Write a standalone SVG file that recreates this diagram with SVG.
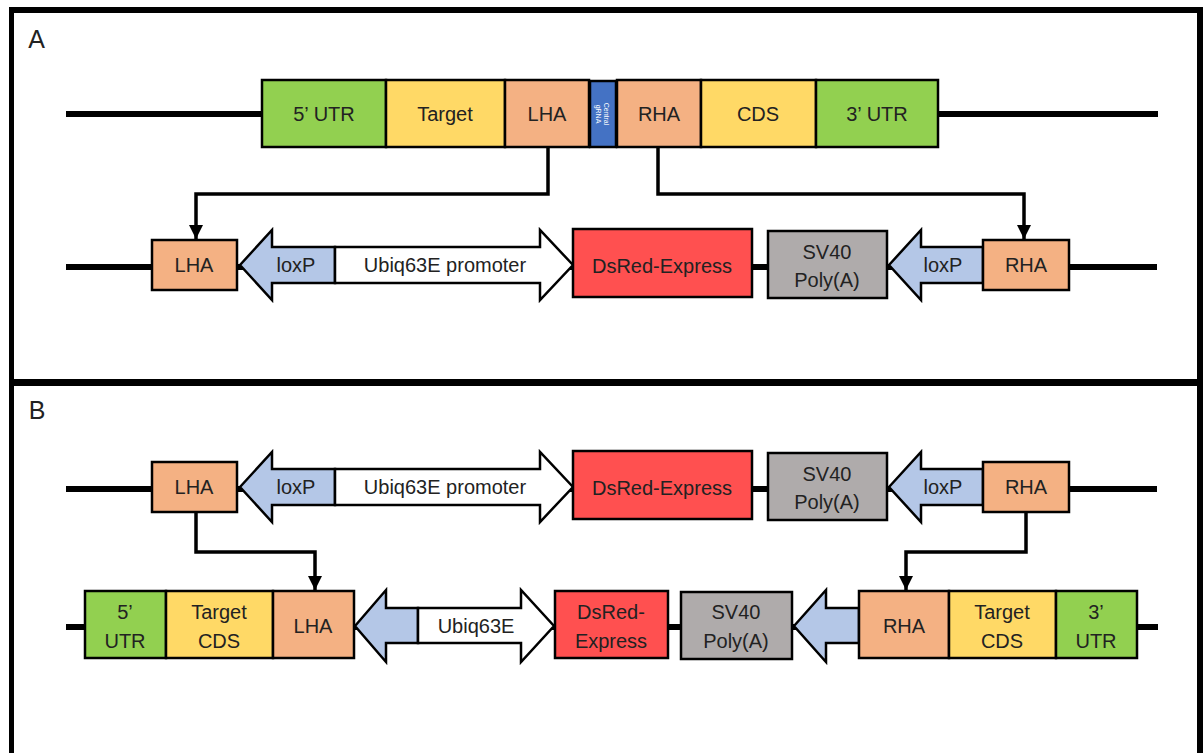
<svg xmlns="http://www.w3.org/2000/svg" width="1203" height="753" viewBox="0 0 1203 753">
<style>
.bx{stroke:#000;stroke-width:2.5}
.g{fill:#92D050}.y{fill:#FFD966}.o{fill:#F4B183}.r{fill:#FF5050}.gr{fill:#AFABAB}.lb{fill:#B4C7E7}.w{fill:#fff}
.t{font-family:"Liberation Sans",Arial,sans-serif;font-size:20px;fill:#222;text-anchor:middle}
.dna{stroke:#000;stroke-width:6;fill:none}
.con{stroke:#000;stroke-width:3.5;fill:none}
.frame{fill:#000}
</style>
<defs>
<marker id="ah" markerWidth="14" markerHeight="14" refX="14" refY="7" orient="auto" markerUnits="userSpaceOnUse" viewBox="0 0 14 14">
<path d="M0,0 L14,7 L0,14 Z" fill="#000"/>
</marker>
</defs>
<rect width="1203" height="753" fill="#fff"/>
<g id="frame">
<rect x="9" y="7" width="1194" height="6" class="frame"/>
<rect x="9" y="7" width="5" height="746" class="frame"/>
<rect x="1197" y="7" width="6" height="746" class="frame"/>
<rect x="9" y="379" width="1194" height="7" class="frame"/>
<text x="36.5" y="48" class="t" style="font-size:25px">A</text>
<text x="37" y="419" class="t" style="font-size:25px">B</text>
</g>
<g id="dna">
<line x1="66" y1="114" x2="262" y2="114" class="dna"/>
<line x1="938" y1="114" x2="1158" y2="114" class="dna"/>
<line x1="66" y1="267" x2="1157" y2="267" class="dna"/>
<line x1="66" y1="489" x2="1157" y2="489" class="dna"/>
<line x1="66" y1="627" x2="1158" y2="627" class="dna"/>
</g>
<g id="connectors">
<path d="M548,147 V194 H196 V239" class="con" marker-end="url(#ah)"/>
<path d="M658,147 V194 H1024 V239" class="con" marker-end="url(#ah)"/>
<path d="M196,512 V552 H315 V590" class="con" marker-end="url(#ah)"/>
<path d="M1026,512 V552 H906 V590" class="con" marker-end="url(#ah)"/>
</g>
<g id="rowA1">
<g id="a-5utr"><rect x="262" y="80" width="124" height="67" class="bx g"/><text x="324" y="121" class="t">5’ UTR</text></g>
<g id="a-target"><rect x="386" y="80" width="119" height="67" class="bx y"/><text x="445" y="121" class="t">Target</text></g>
<g id="a-lha"><rect x="505" y="80" width="84" height="67" class="bx o"/><text x="547" y="121" class="t">LHA</text></g>
<g id="a-grna"><rect x="590" y="81" width="26" height="66" class="bx" fill="#4472C4"/>
<text transform="translate(603,114) rotate(90)" style="font-family:'Liberation Sans',Arial,sans-serif;font-size:7px;fill:#fff;text-anchor:middle"><tspan x="0" y="-1">Central</tspan><tspan x="0" y="7">gRNA</tspan></text></g>
<g id="a-rha"><rect x="617" y="80" width="84" height="67" class="bx o"/><text x="659" y="121" class="t">RHA</text></g>
<g id="a-cds"><rect x="701" y="80" width="115" height="67" class="bx y"/><text x="758" y="121" class="t">CDS</text></g>
<g id="a-3utr"><rect x="816" y="80" width="122" height="67" class="bx g"/><text x="877" y="121" class="t">3’ UTR</text></g>
</g>
<g id="rowA2">
<g id="a2-lha"><rect x="152" y="240" width="85" height="50" class="bx o"/><text x="194" y="272" class="t">LHA</text></g>
<g id="a2-loxp1"><polygon points="240,265 272,230 272,247 335,247 335,283 272,283 272,300" class="bx lb"/><text x="296" y="272" class="t">loxP</text></g>
<g id="a2-prom"><polygon points="335,247 540,247 540,230 573,265 540,300 540,283 335,283" class="bx w"/><text x="445" y="272" class="t">Ubiq63E promoter</text></g>
<g id="a2-dsred"><rect x="573" y="229" width="179" height="68" class="bx r"/><text x="662" y="273" class="t">DsRed-Express</text></g>
<g id="a2-sv40"><rect x="768" y="231" width="119" height="67" class="bx gr"/><text x="827" y="259" class="t">SV40</text><text x="827" y="287" class="t">Poly(A)</text></g>
<g id="a2-loxp2"><polygon points="889,265 921,230 921,247 983,247 983,283 921,283 921,300" class="bx lb"/><text x="943" y="272" class="t">loxP</text></g>
<g id="a2-rha"><rect x="983" y="240" width="86" height="50" class="bx o"/><text x="1026" y="272" class="t">RHA</text></g>
</g>
<g id="rowB1">
<g id="b1-lha"><rect x="152" y="462" width="85" height="50" class="bx o"/><text x="194" y="494" class="t">LHA</text></g>
<g id="b1-loxp1"><polygon points="240,487 272,452 272,469 335,469 335,505 272,505 272,522" class="bx lb"/><text x="296" y="494" class="t">loxP</text></g>
<g id="b1-prom"><polygon points="335,469 540,469 540,452 573,487 540,522 540,505 335,505" class="bx w"/><text x="445" y="494" class="t">Ubiq63E promoter</text></g>
<g id="b1-dsred"><rect x="573" y="451" width="179" height="68" class="bx r"/><text x="662" y="495" class="t">DsRed-Express</text></g>
<g id="b1-sv40"><rect x="768" y="453" width="119" height="67" class="bx gr"/><text x="827" y="481" class="t">SV40</text><text x="827" y="509" class="t">Poly(A)</text></g>
<g id="b1-loxp2"><polygon points="889,487 921,452 921,469 983,469 983,505 921,505 921,522" class="bx lb"/><text x="943" y="494" class="t">loxP</text></g>
<g id="b1-rha"><rect x="983" y="462" width="86" height="50" class="bx o"/><text x="1026" y="494" class="t">RHA</text></g>
</g>
<g id="rowB2">
<g id="b2-5utr"><rect x="85" y="591" width="81" height="67" class="bx g"/><text x="125" y="619" class="t">5’</text><text x="125" y="648" class="t">UTR</text></g>
<g id="b2-target"><rect x="166" y="591" width="107" height="67" class="bx y"/><text x="219" y="619" class="t">Target</text><text x="219" y="648" class="t">CDS</text></g>
<g id="b2-lha"><rect x="273" y="591" width="81" height="67" class="bx o"/><text x="313" y="633" class="t">LHA</text></g>
<g id="b2-loxp1"><polygon points="355,626 386,590 386,608 418,608 418,643 386,643 386,662" class="bx lb"/></g>
<g id="b2-prom"><polygon points="418,608 521,608 521,590 554,626 521,662 521,643 418,643" class="bx w"/><text x="476" y="633" class="t">Ubiq63E</text></g>
<g id="b2-dsred"><rect x="555" y="591" width="113" height="67" class="bx r"/><text x="611" y="619" class="t">DsRed-</text><text x="611" y="648" class="t">Express</text></g>
<g id="b2-sv40"><rect x="681" y="592" width="111" height="67" class="bx gr"/><text x="736" y="619" class="t">SV40</text><text x="736" y="648" class="t">Poly(A)</text></g>
<g id="b2-loxp2"><polygon points="794,626 826,590 826,608 859,608 859,643 826,643 826,662" class="bx lb"/></g>
<g id="b2-rha"><rect x="859" y="591" width="90" height="67" class="bx o"/><text x="904" y="633" class="t">RHA</text></g>
<g id="b2-target2"><rect x="949" y="591" width="107" height="67" class="bx y"/><text x="1002" y="619" class="t">Target</text><text x="1002" y="648" class="t">CDS</text></g>
<g id="b2-3utr"><rect x="1056" y="591" width="81" height="67" class="bx g"/><text x="1096" y="619" class="t">3’</text><text x="1096" y="648" class="t">UTR</text></g>
</g>
</svg>
